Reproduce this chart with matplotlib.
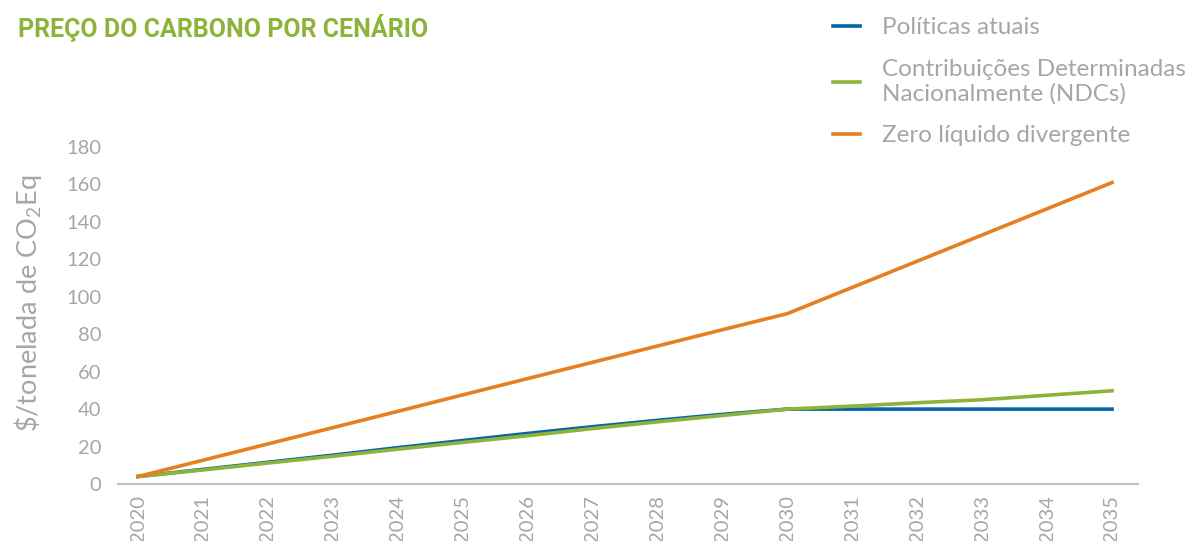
import matplotlib
matplotlib.use("Agg")
import matplotlib.pyplot as plt

years = list(range(2020, 2036))
politicas_atuais = [4, 7.8, 11.6, 15.4, 19.4, 23.2, 27.0, 30.6, 34.0, 37.2, 40, 40, 40, 40, 40, 40]
ndcs = [4, 7.5, 11.2, 14.8, 18.6, 22.2, 25.8, 29.6, 33.2, 36.6, 40, 41.6, 43.4, 45.0, 47.4, 49.8]
zero_liquido = [4, 12.7, 21.4, 30.1, 38.8, 47.6, 56.3, 65.0, 73.7, 82.4, 91, 105, 119, 133, 147, 161]
series_labels = ["Políticas atuais",
                 "Contribuições Determinadas\nNacionalmente (NDCs)",
                 "Zero líquido divergente"]
y_ticks = [0, 20, 40, 60, 80, 100, 120, 140, 160, 180]

BLUE = "#0565a8"
GREEN = "#8db33a"
ORANGE = "#e67e22"
GRAY = "#a6a6a6"

plt.rcParams["font.family"] = ["Lato", "DejaVu Sans"]
plt.rcParams["mathtext.fontset"] = "custom"
plt.rcParams["mathtext.rm"] = "Lato"

fig = plt.figure(figsize=(11.88, 5.41), dpi=100)
ax = fig.add_axes([118 / 1188, 1 - 484 / 541, (1138 - 118) / 1188, (484 - 147) / 541])

ax.plot(years, politicas_atuais, color=BLUE, lw=2.6, label=series_labels[0], zorder=3)
ax.plot(years, ndcs, color=GREEN, lw=2.6, label=series_labels[1], zorder=4)
ax.plot(years, zero_liquido, color=ORANGE, lw=2.6, label=series_labels[2], zorder=5)

ax.set_xlim(2020 - 20 / 64.93, 2035 + 26 / 64.93)
ax.set_ylim(0, 180)
ax.set_yticks(y_ticks)
ax.set_xticks(years)
ax.set_xticklabels([str(y) for y in years], rotation=90)
ax.tick_params(axis="both", length=0, labelsize=14.5, labelcolor=GRAY)
ax.tick_params(axis="y", pad=12)
ax.tick_params(axis="x", pad=8)

for side in ["top", "right", "left"]:
    ax.spines[side].set_visible(False)
ax.spines["bottom"].set_color("#bfbfbf")
ax.spines["bottom"].set_linewidth(1.5)

fig.text(28 / 1188, 1 - 303 / 541, r"\$/tonelada de CO$_2$Eq", rotation=90,
         ha="center", va="center", fontsize=19.5, color=GRAY)

title = fig.text(18 / 1188, 1 - 28 / 541, "PREÇO DO CARBONO POR CENÁRIO", fontsize=18,
                 fontweight="bold", color=GREEN, ha="left", va="center",
                 family=["Roboto", "DejaVu Sans"])

leg = fig.legend(loc="upper left", bbox_to_anchor=(833 / 1188, 1 - 17 / 541),
                 frameon=False, fontsize=17.5, handlelength=1.1, handletextpad=0.9,
                 labelspacing=0.85, borderpad=0, borderaxespad=0, labelcolor=GRAY)

fig.savefig("out.png", dpi=100)
